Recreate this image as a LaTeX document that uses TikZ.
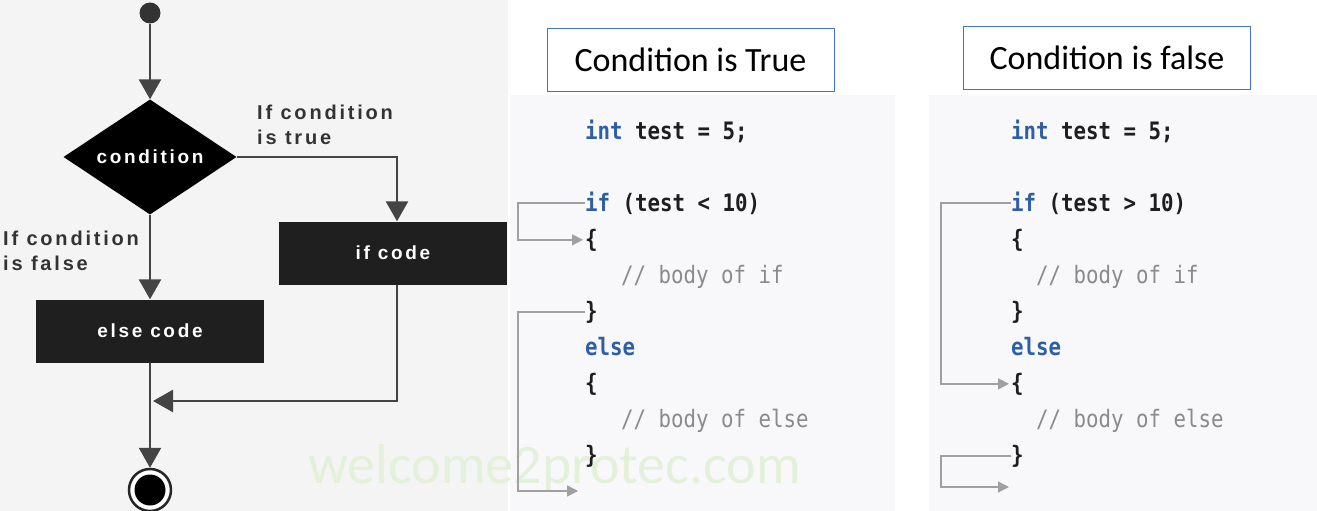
\documentclass[tikz,border=0pt]{standalone}
\usepackage{fontspec}
\usetikzlibrary{shapes.geometric,arrows.meta}
\newfontfamily\flowfont[LetterSpace=14]{Liberation Sans}
\newfontfamily\codefont[FakeStretch=0.865]{DejaVu Sans Mono}
\newfontfamily\calfont{Carlito}
\definecolor{leftbg}{HTML}{F4F4F4}
\definecolor{codebg}{HTML}{F8F8FA}
\definecolor{flowline}{HTML}{444444}
\definecolor{flowtext}{HTML}{333333}
\definecolor{codeblue}{HTML}{2E5FA6}
\definecolor{codeblack}{HTML}{1E1E1E}
\definecolor{codegrey}{HTML}{8A8A8A}
\definecolor{jumpgrey}{HTML}{A0A0A0}
\definecolor{titleblue}{HTML}{4472C4}
\definecolor{wmgreen}{HTML}{E4F1DA}
\begin{document}
\begin{tikzpicture}[x=1pt,y=-1pt,
 flowarrow/.style={draw=flowline,line width=2.5pt,-{Triangle[length=20pt,width=22pt]}},
 flowbox/.style={fill=black!88,text=white,minimum width=228pt,minimum height=63pt,inner sep=0pt,font=\flowfont\bfseries\fontsize{19}{21}\selectfont},
 flowlabel/.style={text=flowtext,align=left,anchor=north west,inner sep=0pt,font=\flowfont\bfseries\fontsize{20}{25}\selectfont},
 titlebox/.style={draw=titleblue,line width=1pt,fill=white,minimum width=287pt,minimum height=62pt,inner sep=0pt,font=\calfont\fontsize{34}{36}\selectfont},
 codeline/.style={anchor=base west,inner sep=0pt,text=codeblack,font=\codefont\bfseries\fontsize{24}{28}\selectfont},
 comment/.style={anchor=base west,inner sep=0pt,text=codegrey,font=\codefont\fontsize{24}{28}\selectfont},
 jump/.style={draw=jumpgrey,line width=1.5pt,-{Triangle[length=11pt,width=11pt]}},
]
\useasboundingbox (0,0) rectangle (1317,511);
\fill[white] (0,0) rectangle (1317,511);
\fill[leftbg] (0,0) rectangle (508,511);
\fill[codebg] (510,95) rectangle (895,511);
\fill[codebg] (929,95) rectangle (1317,511);

% watermark
\node[anchor=base west,inner sep=0pt,text=wmgreen,font=\calfont\fontsize{56}{60}\selectfont] (wm) at (308,483) {welcome2protec.com};

% flowchart
\node[circle,fill=black!80,minimum size=21pt,inner sep=0pt] (start) at (150,13) {};
\node[diamond,fill=black,aspect=1.5,minimum width=173pt,minimum height=115pt,inner sep=1pt,text=white,font=\flowfont\bfseries\fontsize{19}{21}\selectfont] (cond) at (150,157) {condition};
\node[flowbox] (ifbox) at (393,253) {if code};
\node[flowbox] (elsebox) at (150,331) {else code};
\node[circle,draw=black!85,line width=2.5pt,fill=white,minimum size=42pt,inner sep=0pt] (endo) at (150,490) {};
\node[circle,fill=black,minimum size=31pt,inner sep=0pt] (endi) at (endo) {};
\node[flowlabel] (lbltrue) at (257,105) {If condition\\is true};
\node[flowlabel] (lblfalse) at (3,231) {If condition\\is false};

\draw[flowarrow] (start) -- (cond.north);
\draw[flowarrow] (cond.east) -| ([xshift=4pt]ifbox.north);
\draw[flowarrow] (cond.south) -- (elsebox.north);
\coordinate (merge) at (153,401);
\draw[flowarrow] ([xshift=4pt]ifbox.south) |- (merge);
\draw[flowarrow] (elsebox.south) -- (endo.north);

% titles
\node[titlebox] (t1) at (690.5,60) {Condition is True};
\node[titlebox] (t2) at (1107,58) {Condition is false};

% code panel 1
\node[codeline] (p1int) at (585,139) {\textcolor{codeblue}{int} test = 5;};
\node[codeline] (p1if) at (585,211) {\textcolor{codeblue}{if} (test < 10)};
\node[codeline] (p1ob) at (585,247) {\{};
\node[comment] (p1c1) at (621,283) {// body of if};
\node[codeline] (p1cb) at (585,319) {\}};
\node[codeline,text=codeblue] (p1else) at (585,355) {else};
\node[codeline] (p1ob2) at (585,391) {\{};
\node[comment] (p1c2) at (621,427) {// body of else};
\node[codeline] (p1cb2) at (585,463) {\}};
\coordinate (p1end) at (578,491);
\draw[jump] (p1if.west) -- ++(-67,0) |- ([xshift=-2pt]p1ob.west);
\draw[jump] (p1cb.west) -- ++(-67,0) |- (p1end);

% code panel 2
\node[codeline] (p2int) at (1011,139) {\textcolor{codeblue}{int} test = 5;};
\node[codeline] (p2if) at (1011,211) {\textcolor{codeblue}{if} (test > 10)};
\node[codeline] (p2ob) at (1011,247) {\{};
\node[comment] (p2c1) at (1036,283) {// body of if};
\node[codeline] (p2cb) at (1011,319) {\}};
\node[codeline,text=codeblue] (p2else) at (1011,355) {else};
\node[codeline] (p2ob2) at (1011,391) {\{};
\node[comment] (p2c2) at (1036,427) {// body of else};
\node[codeline] (p2cb2) at (1011,463) {\}};
\coordinate (p2end) at (1009,487);
\draw[jump] (p2if.west) -- ++(-70,0) |- ([xshift=-2pt]p2ob2.west);
\draw[jump] (p2cb2.west) -- ++(-70,0) |- (p2end);
\end{tikzpicture}
\end{document}
